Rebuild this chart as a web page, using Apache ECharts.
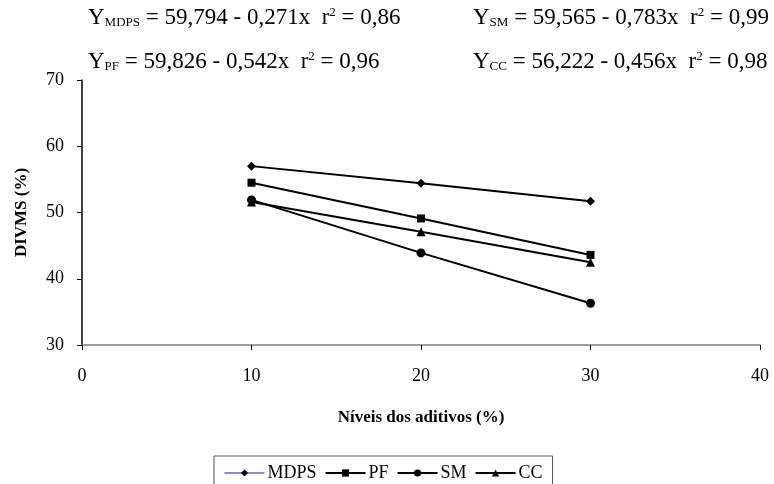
<!DOCTYPE html>
<html>
<head>
<meta charset="utf-8">
<script src="https://cdn.jsdelivr.net/npm/echarts@6/dist/echarts.min.js"></script>
<style>
  html, body { margin: 0; padding: 0; background: #fff; }
  #chart { width: 774px; height: 484px; }
</style>
</head>
<body>
<div id="chart"></div>
<script>
// níveis dos aditivos (%)
const levels = [10, 20, 30];
const mdps = [57.0, 54.4, 51.7];
const pf = [54.5, 49.1, 43.6];
const sm = [51.9, 43.9, 36.3];
const cc = [51.6, 47.1, 42.5];

const seriesNames = ['MDPS', 'PF', 'SM', 'CC'];
const symbols = ['diamond', 'rect', 'circle', 'triangle'];

// equações de regressão: [sub, texto, r2]
const equations = [
  ['MDPS', ' = 59,794 - 0,271x  r', ' = 0,86'],
  ['SM', ' = 59,565 - 0,783x  r', ' = 0,99'],
  ['PF', ' = 59,826 - 0,542x  r', ' = 0,96'],
  ['CC', ' = 56,222 - 0,456x  r', ' = 0,98']
];

const font = 'Liberation Serif';
const myChart = echarts.init(document.getElementById('chart'));

function pairs(vals) {
  return levels.map((x, i) => [x, vals[i]]);
}

const eqPos = [[88, 6], [473, 6], [88, 50], [473, 50]];
const graphics = equations.map((e, i) => ({
  type: 'text',
  left: eqPos[i][0],
  top: eqPos[i][1],
  style: {
    text: 'Y{sub|' + e[0] + '}' + e[1] + '{sup|2}' + e[2],
    fontFamily: font,
    fontSize: 23,
    fill: '#000',
    rich: {
      sub: { fontSize: 13, fontFamily: font, verticalAlign: 'bottom', padding: [10, 0, 0, 0] },
      sup: { fontSize: 13, fontFamily: font, verticalAlign: 'top', padding: [0, 0, 10, 0] }
    }
  }
}));

const allData = [mdps, pf, sm, cc];

const option = {
  animation: false,
  backgroundColor: '#fff',
  textStyle: { fontFamily: font },
  graphic: graphics,
  grid: { left: 82, right: 14, top: 80, bottom: 139 },
  legend: {
    top: 456,
    left: 214,
    itemWidth: 40,
    itemHeight: 9,
    itemGap: 8,
    padding: [8, 10, 12, 10],
    borderColor: '#555',
    borderWidth: 1,
    textStyle: { fontFamily: font, fontSize: 18, color: '#000', padding: [0, 0, 0, -2] },
    data: seriesNames.map((n, i) => ({
      name: n,
      lineStyle: { color: i === 0 ? '#1a1a80' : '#000', width: i === 0 ? 1 : 2 }
    }))
  },
  xAxis: {
    type: 'value',
    min: 0,
    max: 40,
    interval: 10,
    name: 'Níveis dos aditivos (%)',
    nameLocation: 'middle',
    nameGap: 64,
    nameTextStyle: { fontFamily: font, fontSize: 17, fontWeight: 'bold', color: '#000' },
    axisLine: { lineStyle: { color: '#808080', width: 1.5 } },
    axisTick: { show: true, length: 5, lineStyle: { color: '#000' } },
    axisLabel: { fontFamily: font, fontSize: 18, color: '#000', margin: 22 },
    splitLine: { show: false }
  },
  yAxis: {
    type: 'value',
    min: 30,
    max: 70,
    interval: 10,
    name: 'DIVMS (%)',
    nameLocation: 'middle',
    nameGap: 52,
    nameTextStyle: { fontFamily: font, fontSize: 17, fontWeight: 'bold', color: '#000' },
    axisLine: { show: true, lineStyle: { color: '#000', width: 1.5 } },
    axisTick: { show: true, length: 5, lineStyle: { color: '#000' } },
    axisLabel: { fontFamily: font, fontSize: 18, color: '#000', margin: 18 },
    splitLine: { show: false }
  },
  series: seriesNames.map((n, i) => ({
    name: n,
    type: 'line',
    data: pairs(allData[i]),
    symbol: symbols[i],
    symbolSize: i === 1 ? 8 : 9,
    showAllSymbol: true,
    itemStyle: { color: '#000' },
    lineStyle: { color: '#000', width: 2 }
  }))
};

myChart.setOption(option);
</script>
</body>
</html>
